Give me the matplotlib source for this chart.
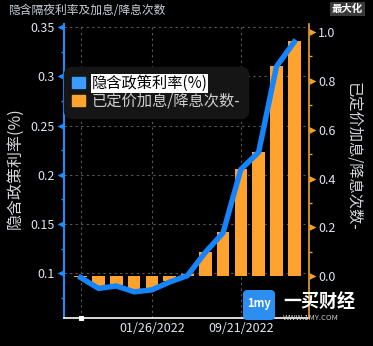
import numpy as np
import matplotlib

matplotlib.use("Agg")
import matplotlib.pyplot as plt
from matplotlib.patches import Patch, FancyBboxPatch
from matplotlib.ticker import FixedLocator, FuncFormatter

plt.rcParams["font.family"] = ["Noto Sans CJK SC", "DejaVu Sans"]

# meeting dates (only two of them are labelled in the chart)
meetings = ["07/28/2021", "09/22/2021", "11/03/2021", "12/15/2021", "01/26/2022",
            "03/16/2022", "05/04/2022", "06/15/2022", "07/27/2022", "09/21/2022",
            "11/02/2022", "12/14/2022", "02/01/2023"]
implied_rate = [0.0955, 0.0845, 0.087, 0.081, 0.083, 0.091, 0.0975,
                0.121, 0.141, 0.2055, 0.223, 0.310, 0.335]
priced_moves = [-0.004, -0.045, -0.035, -0.06, -0.055, -0.02, 0.008,
                0.10, 0.18, 0.44, 0.51, 0.86, 0.96]
tick_pos = [0, 4, 9]
tick_labels = ["", meetings[4], meetings[9]]
left_ticks = [0.1, 0.15, 0.2, 0.25, 0.3, 0.35]
right_ticks = [0.0, 0.2, 0.4, 0.6, 0.8, 1.0]

BLUE = "#1485ff"
ORANGE = "#ffa22e"
SPINE_BLUE = "#1e8cff"
SPINE_ORANGE = "#f0a030"
TXT = "#dfe6ee"
GRID = "#5a5a5a"

fig = plt.figure(figsize=(3.73, 3.46), dpi=100, facecolor="black")
ax = fig.add_axes([64 / 373, 28 / 346, 245 / 373, 294 / 346])
ax.set_facecolor("black")
ax2 = ax.twinx()

x = np.arange(len(meetings))

# bars on the right axis, line on top of them using the left-axis scale
ax2.bar(x, priced_moves, width=0.71, color=ORANGE, zorder=2)
ax2.plot(x, implied_rate, color=BLUE, lw=3.9, solid_joinstyle="miter",
         transform=ax.transData, zorder=3)

ax.set_xlim(-0.94, 12.83)
ax.set_ylim(0.0544, 0.3533)
ax2.set_ylim(-0.1698, 1.0314)

# grid
ax.grid(True, color=GRID, ls=(0, (2, 3)), lw=0.8)
ax.set_axisbelow(True)

# x axis
ax.set_xticks(tick_pos)
ax.set_xticklabels(tick_labels, color=TXT, fontsize=9)
ax.tick_params(axis="x", length=0, pad=3)
xt = ax.xaxis.get_major_ticks()
xt[0].tick1line.set_marker("s")
xt[0].tick1line.set_markersize(3.5)
xt[0].tick1line.set_markerfacecolor("white")
xt[0].tick1line.set_markeredgecolor("white")

# left axis
ax.yaxis.set_major_locator(FixedLocator(left_ticks))
ax.yaxis.set_minor_locator(FixedLocator(np.arange(0.075, 0.36, 0.05)))
ax.yaxis.set_major_formatter(FuncFormatter(lambda v, p: f"{v:g}"))
ax.tick_params(axis="y", which="major", length=5, pad=1.5, labelcolor=TXT,
               labelsize=9, color=SPINE_BLUE)
ax.tick_params(axis="y", which="minor", length=2.5, width=1, color=SPINE_BLUE)
left_tri = [(-1, 0), (0, 0.5), (0, -0.5)]
for t in ax.yaxis.get_major_ticks():
    t.tick1line.set_marker(left_tri)
    t.tick1line.set_markersize(10)
    t.tick1line.set_markerfacecolor(SPINE_BLUE)
    t.tick1line.set_markeredgecolor(SPINE_BLUE)
    t.tick1line.set_markeredgewidth(0)
ax.set_ylabel("隐含政策利率(%)", color="#d4d8dc", fontsize=11.5, labelpad=5)
ax.yaxis.label.set_y(0.51)

# right axis
ax2.yaxis.set_major_locator(FixedLocator(right_ticks))
ax2.yaxis.set_minor_locator(FixedLocator(np.arange(0.1, 1.0, 0.2)))
ax2.yaxis.set_major_formatter(FuncFormatter(lambda v, p: f"{v:.1f}"))
ax2.tick_params(axis="y", which="major", length=5, pad=1.5, labelcolor=TXT,
                labelsize=9, color=SPINE_ORANGE)
ax2.tick_params(axis="y", which="minor", length=2.5, width=1, color=SPINE_ORANGE)
right_tri = [(1, 0), (0, 0.5), (0, -0.5)]
for t in ax2.yaxis.get_major_ticks():
    t.tick2line.set_marker(right_tri)
    t.tick2line.set_markersize(10)
    t.tick2line.set_markerfacecolor(SPINE_ORANGE)
    t.tick2line.set_markeredgecolor(SPINE_ORANGE)
    t.tick2line.set_markeredgewidth(0)
ax2.set_ylabel("已定价加息/降息次数-", color="#d4d8dc", fontsize=11,
               rotation=270, labelpad=19)
ax2.yaxis.label.set_y(0.55)

# spines
for a in (ax, ax2):
    a.spines["top"].set_visible(False)
ax.spines["right"].set_visible(False)
ax2.spines["left"].set_visible(False)
ax2.spines["bottom"].set_visible(False)
ax.spines["left"].set_color(SPINE_BLUE)
ax.spines["left"].set_linewidth(1.5)
ax.spines["bottom"].set_color("white")
ax.spines["bottom"].set_linewidth(1.2)
ax2.spines["right"].set_color(SPINE_ORANGE)
ax2.spines["right"].set_linewidth(1.2)

# legend
handles = [Patch(color="#3b9cff"), Patch(color=ORANGE)]
leg = ax2.legend(handles, ["隐含政策利率(%)", "已定价加息/降息次数-"],
                 loc="upper left", bbox_to_anchor=(0.012, 0.845), fontsize=11,
                 handlelength=0.85, handleheight=0.8, handletextpad=0.4,
                 borderpad=0.35, labelspacing=0.05, borderaxespad=0,
                 frameon=True, fancybox=True, framealpha=1,
                 facecolor="#151515", edgecolor="#151515")
leg.get_frame().set_boxstyle("round", pad=0.2, rounding_size=0.5)
txts = leg.get_texts()
txts[0].set_color("black")
txts[0].set_bbox(dict(facecolor="white", edgecolor="none", pad=0.4))
txts[1].set_color("#cfcfcf")

# header
fig.text(8 / 373, 1 - 10 / 346, "隐含隔夜利率及加息/降息次数", color="#c8d0d8",
         fontsize=8.5, va="center", ha="left")
fig.text(347.5 / 373, 1 - 9 / 346, "最大化", color="white", fontsize=7.5,
         fontweight="bold", va="center", ha="center",
         bbox=dict(facecolor="#3a3a3a", edgecolor="none", pad=1.5))

# watermark
logo = FancyBboxPatch((243 / 373, 26 / 346), 32 / 373, 30 / 346,
                      boxstyle="round,pad=0,rounding_size=0.012",
                      transform=fig.transFigure, facecolor="#2b8ef0",
                      edgecolor="none", zorder=10)
fig.patches.append(logo)
fig.text(259 / 373, 42 / 346, "1my", color="white", fontsize=8,
         fontweight="bold", style="italic", ha="center", va="center", zorder=11)
fig.text(283 / 373, 43.5 / 346, "一买财经", color="white", fontsize=13,
         fontweight="bold", ha="left", va="center", zorder=11)
fig.text(283 / 373, 28 / 346, "WWW.1MY.COM", color="#d0d0d0", fontsize=5.5,
         ha="left", va="center", zorder=11)

fig.savefig("out.png", dpi=100, facecolor="black")
